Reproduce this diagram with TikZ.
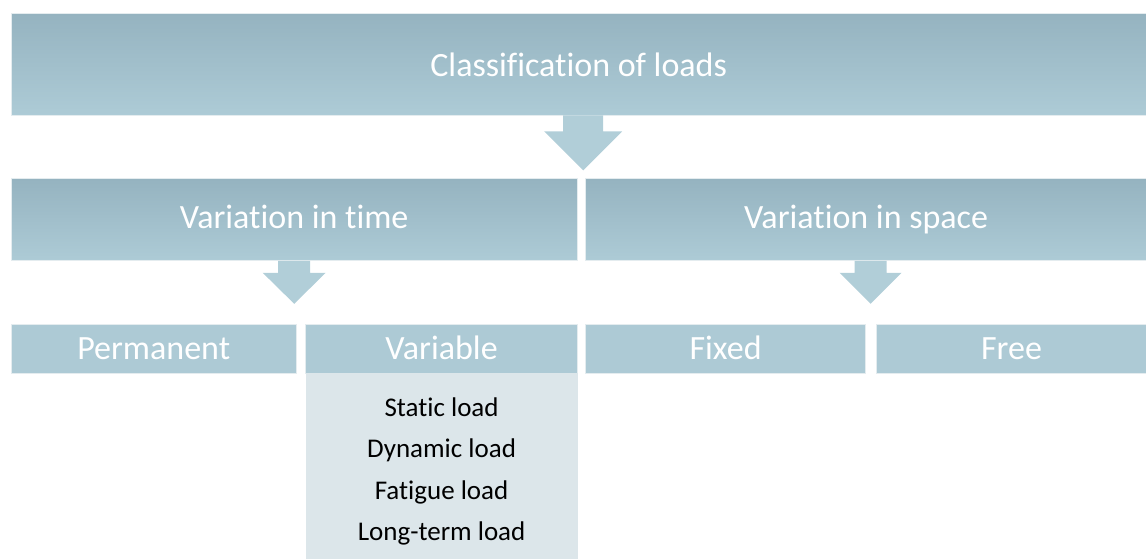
\documentclass[tikz,border=0pt]{standalone}
\usepackage{fontspec}
\setmainfont{Carlito}[Ligatures=NoCommon]
\usepackage{tikz}
\usetikzlibrary{positioning, calc}
\usepackage{xcolor}
\definecolor{headtop}{HTML}{95B3C0}
\definecolor{headbot}{HTML}{ADCBD6}
\definecolor{leaf}{HTML}{ADCAD5}
\definecolor{listbg}{HTML}{DCE6EA}
\definecolor{arrowfill}{HTML}{B1CED8}
\definecolor{edge}{HTML}{E4ECEF}

% block arrow: top point, shaft half-width, shaft length, head half-width, head length
\newcommand{\blockarrow}[5]{%
  \fill[arrowfill] #1 ++(-#2,0) -- ++(0,#3) -- ++(#2-#4,0) -- ++(#4,#5)
    -- ++(#4,-#5) -- ++(#2-#4,0) -- ++(0,-#3) -- cycle;}

\begin{document}
\begin{tikzpicture}[x=1pt, y=-1pt, every node/.style={align=center, inner sep=0pt},
  head/.style={top color=headtop, bottom color=headbot, draw=edge, text=white,
    font=\fontsize{34}{40}\selectfont, text height=25pt, text depth=7pt},
  leafbox/.style={fill=leaf, draw=edge, text=white, minimum height=49pt,
    font=\fontsize{34}{40}\selectfont, text height=29pt, text depth=7pt},
  listbox/.style={fill=listbg, font=\fontsize{27}{41.5}\selectfont}]
\useasboundingbox (0,0) rectangle (1146,559);

% Top level
\node (title) [head, anchor=north west, minimum width=1135pt, minimum height=102pt,
  text height=31pt] at (11,13) {Classification of loads};

% Second level
\node (time) [head, below=63pt of title.south west, anchor=north west, minimum width=566pt, minimum height=82pt] {Variation in time};
\node (space) [head, right=8pt of time, minimum width=561pt, minimum height=82pt] {Variation in space};

% Third level
\node (perm) [leafbox, below=63pt of time.south west, anchor=north west, minimum width=285pt] {Permanent};
\node (var) [leafbox, right=9pt of perm, minimum width=272pt] {Variable};
\node (fixed) [leafbox, below=63pt of space.south west, anchor=north west, minimum width=280pt] {Fixed};
\node (free) [leafbox, right=10pt of fixed, minimum width=271pt] {Free};

% Kinds of variable load (box runs on past the page edge)
\node (kinds) [listbox, below=0pt of var, minimum width=272pt, minimum height=196pt] {Static load\\Dynamic load\\Fatigue load\\Long-term load};

% Arrows
\blockarrow{($(title.south)+(4.5,0)$)}{20}{16}{39}{39}
\blockarrow{(time.south)}{16}{12}{31.5}{31}
\blockarrow{($(space.south)+(4.5,0)$)}{16}{12}{31}{31}
\end{tikzpicture}
\end{document}
